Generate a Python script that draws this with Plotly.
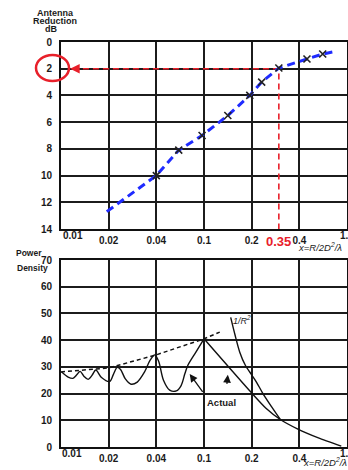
import plotly.graph_objects as go

W, H = 348, 470
ML, MR, MT, MB = 61, 1, 42, 23
PW, PH = W - ML - MR, H - MT - MB

def px(xp):
    return (xp - ML) / PW

def py(yp):
    return (H - MB - yp) / PH

# ---- data ----
x_tick_pos = [0, 1, 2, 3, 4, 5, 6]
x_tick_text = ["0.01", "0.02", "0.04", "0.1", "0.2", "0.4", "1.0"]

# top chart: antenna reduction (dB) vs axis position
blue_x = [0.96, 2.0, 2.47, 2.96, 3.5, 3.96, 4.21, 4.57, 5.16, 5.49, 5.7]
blue_db = [12.7, 10.0, 8.1, 7.0, 5.5, 4.0, 3.0, 1.95, 1.27, 0.9, 0.75]
meas_x = [2.0, 2.47, 2.96, 3.5, 3.96, 4.21, 4.57, 5.16, 5.49]
meas_db = [10.0, 8.1, 7.0, 5.5, 4.0, 3.0, 1.95, 1.27, 0.9]
mark_x = 4.57
mark_db = 2.0

# bottom chart: power density
osc_x = [0.01, 0.15, 0.25, 0.33, 0.40, 0.48, 0.57, 0.65, 0.73, 0.85, 1.02, 1.10, 1.18,
         1.25, 1.35, 1.47, 1.60, 1.75, 1.87, 1.97, 2.05, 2.15, 2.28, 2.42, 2.52, 2.60,
         2.66, 2.83, 3.0]
osc_y = [28.2, 26.2, 25.7, 27.0, 28.3, 26.5, 25.3, 26.8, 28.8, 26.0, 24.5, 27.2, 29.8,
         29.0, 25.5, 23.5, 24.3, 28.0, 32.5, 34.5, 32.0, 25.0, 21.3, 21.0, 23.0, 27.5,
         30.5, 35.5, 40.5]
desc_x = [3.0, 3.5, 4.0, 4.3, 4.6, 4.97, 5.4, 5.88]
desc_y = [40.5, 30.3, 20.2, 14.5, 10.3, 6.7, 3.4, 0.3]
inv_x = [3.56, 3.65, 3.75, 3.87, 4.0, 4.1, 4.23, 4.42, 4.6]
inv_y = [48.5, 42.0, 35.5, 30.5, 27.0, 24.3, 20.2, 15.0, 10.3]
env_x = [0.0, 1.0, 2.0, 3.0, 3.33]
env_y = [28.1, 29.6, 34.5, 40.5, 43.0]

RED = "#e8202a"
BLUE = "#1f2bff"
FONT = "Liberation Sans"

fig = go.Figure()

# top chart traces
fig.add_trace(go.Scatter(x=[0.25, mark_x], y=[mark_db, mark_db], mode="lines",
                         line=dict(color=RED, width=1.6, dash="6px,4px"),
                         xaxis="x", yaxis="y", showlegend=False))
fig.add_trace(go.Scatter(x=[mark_x, mark_x], y=[2.35, 14], mode="lines",
                         line=dict(color=RED, width=1.6, dash="6px,4px"),
                         xaxis="x", yaxis="y", showlegend=False))
fig.add_trace(go.Scatter(x=blue_x, y=blue_db, mode="lines",
                         line=dict(color=BLUE, width=3, dash="8px,5px"),
                         xaxis="x", yaxis="y", showlegend=False))
fig.add_trace(go.Scatter(x=meas_x, y=meas_db, mode="markers",
                         marker=dict(symbol="x-thin", size=7, line=dict(color="#222", width=1.6)),
                         xaxis="x", yaxis="y", showlegend=False))

# bottom chart traces
fig.add_trace(go.Scatter(x=env_x, y=env_y, mode="lines",
                         line=dict(color="#111", width=1.5, dash="4px,3px"),
                         xaxis="x2", yaxis="y2", showlegend=False))
fig.add_trace(go.Scatter(x=osc_x, y=osc_y, mode="lines", line_shape="spline",
                         line=dict(color="#111", width=1.4, smoothing=0.9),
                         xaxis="x2", yaxis="y2", showlegend=False))
fig.add_trace(go.Scatter(x=desc_x, y=desc_y, mode="lines", line_shape="spline",
                         line=dict(color="#111", width=1.4, smoothing=0.6),
                         xaxis="x2", yaxis="y2", showlegend=False))
fig.add_trace(go.Scatter(x=inv_x, y=inv_y, mode="lines", line_shape="spline",
                         line=dict(color="#111", width=1.4, smoothing=0.8),
                         xaxis="x2", yaxis="y2", showlegend=False))

grid = dict(showgrid=True, gridcolor="#1c1c1c", gridwidth=1.6, zeroline=False,
            showline=True, linecolor="#111", linewidth=2, mirror=True,
            tickfont=dict(family=FONT, size=10, color="#1a1a1a", weight="bold"),
            ticks="", automargin=False, fixedrange=True)

top_dom = [py(229), 1.0]
bot_dom = [0.0, py(260)]

fig.update_layout(
    width=W, height=H, template="none",
    margin=dict(l=ML, r=MR, t=MT, b=MB, pad=0),
    paper_bgcolor="white", plot_bgcolor="white",
    showlegend=False,
    xaxis=dict(domain=[0, 1], range=[0, 6], tickvals=x_tick_pos,
               ticktext=[""] + x_tick_text[1:], anchor="y", ticklabelstandoff=1, **grid),
    yaxis=dict(domain=top_dom, range=[14, 0], tickvals=[0, 2, 4, 6, 8, 10, 12, 14],
               anchor="x", ticklabelstandoff=5, **grid),
    xaxis2=dict(domain=[0, 1], range=[0, 6], tickvals=x_tick_pos,
                ticktext=[""] + x_tick_text[1:], anchor="y2", ticklabelstandoff=1, **grid),
    yaxis2=dict(domain=bot_dom, range=[0, 70], tickvals=[0, 10, 20, 30, 40, 50, 60, 70],
                anchor="x2", ticklabelstandoff=5, **grid),
)

def txt(x, y, s, size=9.5, color="#1a1a1a", bold=True, italic=False, xanchor="center"):
    fig.add_annotation(x=px(x), y=py(y), xref="paper", yref="paper", text=s,
                       showarrow=False, xanchor=xanchor, yanchor="middle",
                       font=dict(family=FONT, size=size, color=color,
                                 weight="bold" if bold else "normal",
                                 style="italic" if italic else "normal"))

txt(55, 13, "Antenna", size=9)
txt(55, 21, "Reduction", size=9)
txt(51, 29, "dB", size=9)
txt(29, 253, "Power", size=8.5)
txt(32, 268, "Density", size=8.5)
txt(73, 235, x_tick_text[0], size=10)
txt(72, 453, x_tick_text[0], size=10)
txt(347, 235, x_tick_text[-1], size=10)
txt(347, 453, x_tick_text[-1], size=10)
txt(296, 247, "x=R/2D<sup>2</sup>/λ", size=9.5, bold=False, italic=True, xanchor="left")
txt(301, 462, "x=R/2D<sup>2</sup>/λ", size=9.5, bold=False, italic=True, xanchor="left")
txt(278, 241, "0.35", size=13, color=RED)
txt(231, 320, "1/R<sup>2</sup>", size=9, bold=False, italic=True, xanchor="left")
txt(221, 402, "Actual", size=9.5)

# red circle around the "2" label
fig.add_shape(type="circle", xref="paper", yref="paper",
              x0=px(36), x1=px(69), y0=py(81), y1=py(55),
              line=dict(color=RED, width=2.5))

# red arrowheads
fig.add_annotation(x=0.19, y=mark_db, xref="x", yref="y", text=" ", showarrow=True,
                   ax=9, ay=0, arrowhead=2, arrowsize=1.2, arrowwidth=1.6, arrowcolor=RED)
fig.add_annotation(x=mark_x, y=2.2, xref="x", yref="y", text=" ", showarrow=True,
                   ax=0, ay=9, arrowhead=2, arrowsize=1.2, arrowwidth=1.6, arrowcolor=RED)

# "Actual" pointer arrows
fig.add_annotation(x=2.70, y=27.3, xref="x2", yref="y2", text=" ", showarrow=True,
                   ax=16, ay=22, arrowhead=2, arrowsize=1.2, arrowwidth=1.3, arrowcolor="#111")
fig.add_annotation(x=3.50, y=27.0, xref="x2", yref="y2", text=" ", showarrow=True,
                   ax=-2, ay=19, arrowhead=2, arrowsize=1.2, arrowwidth=1.3, arrowcolor="#111")

fig.write_html("out.html", config={"displayModeBar": False},
               post_script="document.body.style.margin='0';document.body.style.padding='0';")
